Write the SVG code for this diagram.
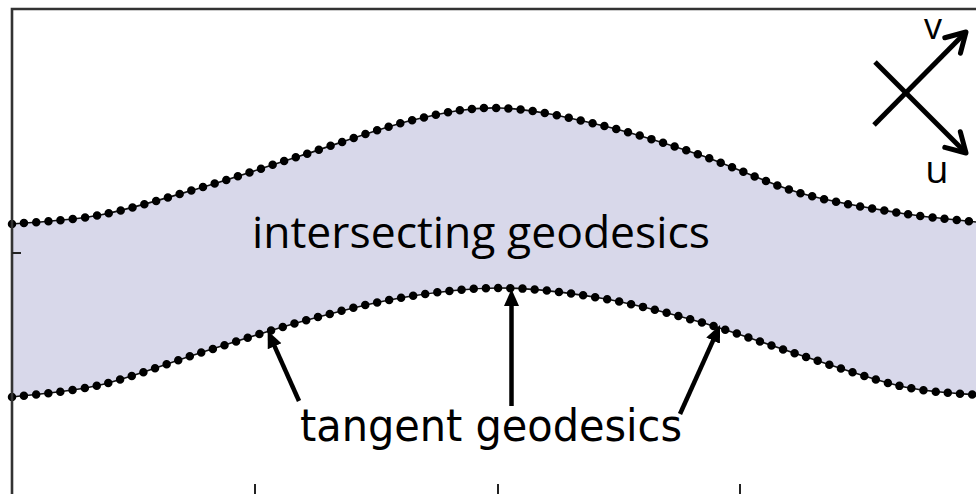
<svg xmlns="http://www.w3.org/2000/svg" width="976" height="494" viewBox="0 0 976 494">
<style>
.band{fill:#d8d8ea;stroke:none}
.under{fill:#ffffff;stroke:none}
.curve{fill:none;stroke:#111;stroke-width:1.6}
.dots{fill:none;stroke:#000;stroke-width:8.5;stroke-linecap:round;stroke-dasharray:0 12.2}
.frame{fill:none;stroke:#333;stroke-width:2.6}
.tick{stroke:#222;stroke-width:2}
.ptr{fill:none;stroke:#000;stroke-width:4.5}
.axis{fill:none;stroke:#000;stroke-width:5}
.lbl{font-family:"Open Sans","DejaVu Sans",sans-serif;fill:#000}
.lbl2{font-family:"DejaVu Sans Condensed","DejaVu Sans",sans-serif;fill:#000}
</style>
<defs>
<marker id="tri" markerUnits="userSpaceOnUse" markerWidth="20" markerHeight="18" viewBox="0 -9 20 18" refX="1" refY="0" orient="auto">
<path d="M0,-7.5 L17,0 L0,7.5 Z" fill="#000"/>
</marker>
<marker id="chev" markerUnits="userSpaceOnUse" markerWidth="30" markerHeight="30" viewBox="-26 -15 30 30" refX="0" refY="0" orient="auto">
<path d="M-19,-11 L0,0 L-19,11" fill="none" stroke="#000" stroke-width="5" stroke-linejoin="round" stroke-linecap="round"/>
</marker>
</defs>
<rect width="976" height="494" fill="#fff"/>
<g id="band">
<path class="band" d="M12,224 C26.7,222.5 68.7,221 100,215 C131.3,209 166.7,197.8 200,188 C233.3,178.2 264.5,167.3 300,156 C335.5,144.7 379.7,128 413,120 C446.3,112 468.8,107.2 500,108 C531.2,108.8 566.7,117.2 600,125 C633.3,132.8 666.7,143.7 700,155 C733.3,166.3 766.7,183.3 800,193 C833.3,202.7 870.7,208.2 900,213 C929.3,217.8 963.3,220.5 976,222 L976,494 L12,494 Z"/>
<path class="under" d="M12,397 C26.7,395 68.7,392.3 100,385 C131.3,377.7 166.7,363.5 200,353 C233.3,342.5 266.7,331.2 300,322 C333.3,312.8 366.7,303.7 400,298 C433.3,292.3 466.7,288 500,288 C533.3,288 566.7,292.3 600,298 C633.3,303.7 666.7,312.5 700,322 C733.3,331.5 766.7,344.3 800,355 C833.3,365.7 870.7,379.3 900,386 C929.3,392.7 963.3,393.5 976,395 L976,494 L12,494 Z"/>
</g>
<g id="geodesic-upper">
<path class="curve" d="M12,224 C26.7,222.5 68.7,221 100,215 C131.3,209 166.7,197.8 200,188 C233.3,178.2 264.5,167.3 300,156 C335.5,144.7 379.7,128 413,120 C446.3,112 468.8,107.2 500,108 C531.2,108.8 566.7,117.2 600,125 C633.3,132.8 666.7,143.7 700,155 C733.3,166.3 766.7,183.3 800,193 C833.3,202.7 870.7,208.2 900,213 C929.3,217.8 963.3,220.5 976,222"/>
<path class="dots" d="M12,224 C26.7,222.5 68.7,221 100,215 C131.3,209 166.7,197.8 200,188 C233.3,178.2 264.5,167.3 300,156 C335.5,144.7 379.7,128 413,120 C446.3,112 468.8,107.2 500,108 C531.2,108.8 566.7,117.2 600,125 C633.3,132.8 666.7,143.7 700,155 C733.3,166.3 766.7,183.3 800,193 C833.3,202.7 870.7,208.2 900,213 C929.3,217.8 963.3,220.5 976,222"/>
</g>
<g id="geodesic-lower">
<path class="curve" d="M12,397 C26.7,395 68.7,392.3 100,385 C131.3,377.7 166.7,363.5 200,353 C233.3,342.5 266.7,331.2 300,322 C333.3,312.8 366.7,303.7 400,298 C433.3,292.3 466.7,288 500,288 C533.3,288 566.7,292.3 600,298 C633.3,303.7 666.7,312.5 700,322 C733.3,331.5 766.7,344.3 800,355 C833.3,365.7 870.7,379.3 900,386 C929.3,392.7 963.3,393.5 976,395"/>
<path class="dots" d="M12,397 C26.7,395 68.7,392.3 100,385 C131.3,377.7 166.7,363.5 200,353 C233.3,342.5 266.7,331.2 300,322 C333.3,312.8 366.7,303.7 400,298 C433.3,292.3 466.7,288 500,288 C533.3,288 566.7,292.3 600,298 C633.3,303.7 666.7,312.5 700,322 C733.3,331.5 766.7,344.3 800,355 C833.3,365.7 870.7,379.3 900,386 C929.3,392.7 963.3,393.5 976,395"/>
</g>
<g id="frame">
<path class="frame" d="M12,496 L12,9 L978,9"/>
<line class="tick" x1="12" y1="253" x2="21" y2="253"/>
<line class="tick" x1="255" y1="484" x2="255" y2="494"/>
<line class="tick" x1="498" y1="484" x2="498" y2="494"/>
<line class="tick" x1="740" y1="484" x2="740" y2="494"/>
</g>
<g id="axes-uv">
<line class="axis" x1="874" y1="125" x2="966" y2="32" marker-end="url(#chev)"/>
<line class="axis" x1="875" y1="62" x2="966" y2="153" marker-end="url(#chev)"/>
<text class="lbl" x="933" y="39" font-size="36" text-anchor="middle">v</text>
<text class="lbl" x="937" y="183" font-size="38" text-anchor="middle">u</text>
</g>
<g id="label-intersecting">
<text class="lbl" x="252" y="248" font-size="43" textLength="458" lengthAdjust="spacingAndGlyphs">intersecting geodesics</text>
</g>
<g id="label-tangent">
<text class="lbl2" x="300" y="441" font-size="45" textLength="382" lengthAdjust="spacingAndGlyphs">tangent geodesics</text>
</g>
<g id="connectors">
<line class="ptr" x1="299" y1="401" x2="274.2" y2="345.4" marker-end="url(#tri)"/>
<line class="ptr" x1="511.5" y1="406" x2="511.5" y2="305" marker-end="url(#tri)"/>
<line class="ptr" x1="680" y1="414" x2="713.5" y2="339.7" marker-end="url(#tri)"/>
</g>
</svg>
